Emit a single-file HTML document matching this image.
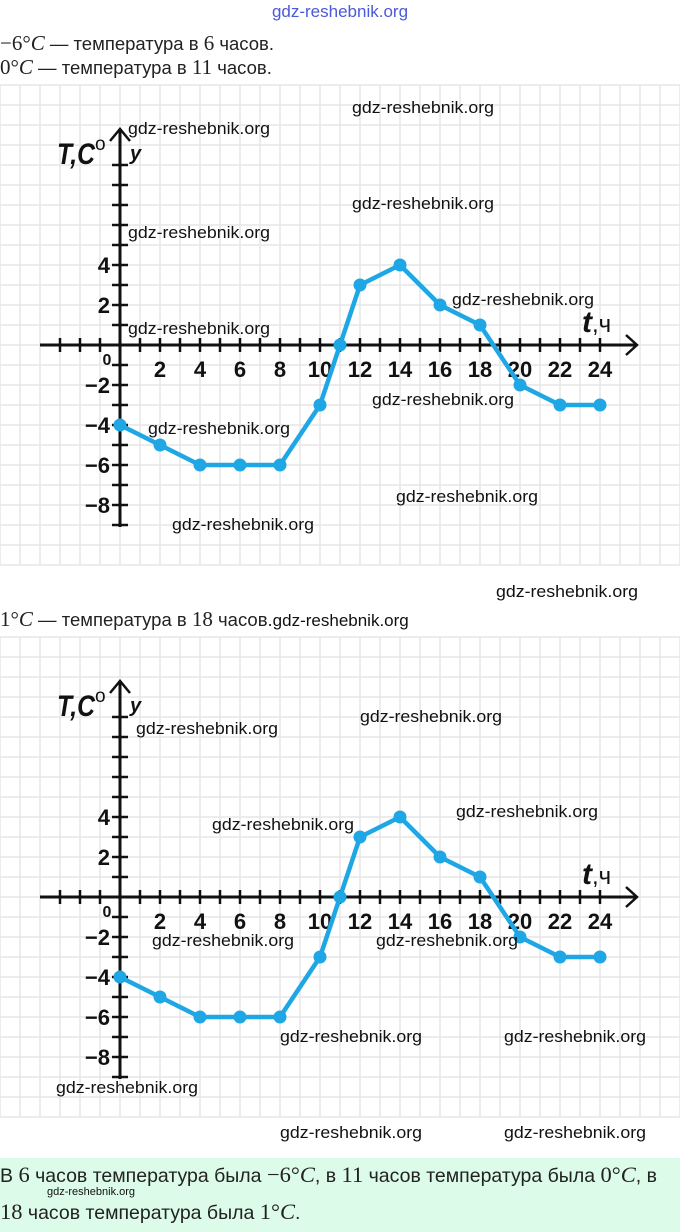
<!DOCTYPE html>
<html><head><meta charset="utf-8">
<style>
body{margin:0;width:680px;height:1232px;background:#fff;overflow:hidden;font-family:"Liberation Sans",sans-serif;}
svg{position:absolute;left:0;top:0}
</style></head><body>
<svg id="s" width="680" height="1232" xmlns="http://www.w3.org/2000/svg"></svg>
<script>
var s=document.getElementById('s'),h='';
h+='<rect x="0" y="1158" width="680" height="74" fill="#dcfbe8"/>';
function chart(oy,wm){
  var top=oy-260,bot=oy+220;
  for(var x=0;x<=680;x+=20)h+='<line x1="'+x+'" y1="'+top+'" x2="'+x+'" y2="'+bot+'" stroke="#e6e6e6" stroke-width="1.5"/>';
  for(var y=top;y<=bot;y+=20)h+='<line x1="0" y1="'+y+'" x2="680" y2="'+y+'" stroke="#e6e6e6" stroke-width="1.5"/>';
  h+='<line x1="40" y1="'+oy+'" x2="636" y2="'+oy+'" stroke="#111" stroke-width="3"/>';
  h+='<polyline points="626,'+(oy-10)+' 637,'+oy+' 626,'+(oy+10)+'" fill="none" stroke="#111" stroke-width="2.5"/>';
  h+='<line x1="120" y1="'+(oy-216)+'" x2="120" y2="'+(oy+182)+'" stroke="#111" stroke-width="3"/>';
  h+='<polyline points="110,'+(oy-204)+' 120,'+(oy-216)+' 130,'+(oy-204)+'" fill="none" stroke="#111" stroke-width="2.5"/>';
  for(var x=60;x<=600;x+=20)if(x!=120)h+='<line x1="'+x+'" y1="'+(oy-7)+'" x2="'+x+'" y2="'+(oy+7)+'" stroke="#111" stroke-width="2.5"/>';
  for(var y=oy-180;y<=oy+180;y+=20)if(y!=oy)h+='<line x1="112" y1="'+y+'" x2="128" y2="'+y+'" stroke="#111" stroke-width="2.5"/>';
  var f='font-family="Liberation Sans, sans-serif" font-weight="bold" fill="#111"';
  var xl=[2,4,6,8,10,12,14,16,18,20,22,24];
  xl.forEach(function(v){h+='<text x="'+(120+20*v)+'" y="'+(oy+32)+'" text-anchor="middle" font-size="22" '+f+'>'+v+'</text>';});
  h+='<text x="107" y="'+(oy+20)+'" text-anchor="middle" font-size="16" '+f+'>0</text>';
  [[4,'4'],[2,'2'],[-2,'−2'],[-4,'−4'],[-6,'−6'],[-8,'−8']].forEach(function(a){
    h+='<text x="110" y="'+(oy-20*a[0]+8)+'" text-anchor="end" font-size="22" '+f+'>'+a[1]+'</text>';});
  h+='<text x="57" y="'+(oy-181)+'" font-size="30" font-style="italic" textLength="38" lengthAdjust="spacingAndGlyphs" '+f+'>T,C</text>';
  h+='<text x="95" y="'+(oy-195)+'" font-size="19" fill="#111" font-family="Liberation Sans, sans-serif">o</text>';
  h+='<text x="130" y="'+(oy-185)+'" font-size="20" font-style="italic" '+f+'>y</text>';
  h+='<text x="582" y="'+(oy-13)+'" font-size="30" font-style="italic" '+f+'>t</text>';
  h+='<text x="592" y="'+(oy-13)+'" font-size="24" fill="#111" font-family="Liberation Sans, sans-serif">,ч</text>';
  var d=[[0,-4],[2,-5],[4,-6],[6,-6],[8,-6],[10,-3],[11,0],[12,3],[14,4],[16,2],[18,1],[20,-2],[22,-3],[24,-3]];
  var p=d.map(function(a){return (120+20*a[0])+','+(oy-20*a[1]);}).join(' ');
  h+='<polyline points="'+p+'" fill="none" stroke="#1ea7e4" stroke-width="4.5" stroke-linejoin="round"/>';
  d.forEach(function(a){h+='<circle cx="'+(120+20*a[0])+'" cy="'+(oy-20*a[1])+'" r="6.5" fill="#1ea7e4"/>';});
  wm.forEach(function(w){h+='<text x="'+w[0]+'" y="'+(w[1])+'" font-size="17" textLength="142" lengthAdjust="spacingAndGlyphs" fill="#111" font-family="Liberation Sans, sans-serif">gdz-reshebnik.org</text>';});
}
chart(345,[[352,113],[128,134],[352,209],[128,238],[452,305],[128,334],[372,405],[148,434],[396,502],[172,530],[496,597]]);
chart(897,[[360,722],[136,734],[456,817],[212,830],[152,946],[376,946],[280,1042],[504,1042],[56,1093],[280,1138],[504,1138]]);
var t='font-family="Liberation Sans, Noto Sans CJK JP, sans-serif" font-size="18.5" fill="#222"';
var m='font-family="Liberation Serif, serif" font-size="21" fill="#222"';
var t2='font-family="Liberation Sans, Noto Sans CJK JP, sans-serif" font-size="19.5" fill="#222"';
var m2='font-family="Liberation Serif, serif" font-size="22.5" fill="#222"';
h+='<text x="340" y="17" text-anchor="middle" font-size="17" fill="#4a5ad8" font-family="Liberation Sans, sans-serif">gdz-reshebnik.org</text>';
h+='<text x="0" y="50" '+t+'><tspan '+m+'>−6°<tspan font-style="italic">C</tspan></tspan> — температура в <tspan '+m+'>6</tspan> часов.</text>';
h+='<text x="0" y="74" '+t+'><tspan '+m+'>0°<tspan font-style="italic">C</tspan></tspan> — температура в <tspan '+m+'>11</tspan> часов.</text>';
h+='<text x="0" y="626" '+t+'><tspan '+m+'>1°<tspan font-style="italic">C</tspan></tspan> — температура в <tspan '+m+'>18</tspan> часов.<tspan fill="#111" font-size="17">gdz-reshebnik.org</tspan></text>';
h+='<text x="0" y="1182" '+t2+'>В <tspan '+m2+'>6</tspan> часов температура была <tspan '+m2+'>−6°<tspan font-style="italic">C</tspan></tspan>, в <tspan '+m2+'>11</tspan> часов температура была <tspan '+m2+'>0°<tspan font-style="italic">C</tspan></tspan>, в</text>';
h+='<text x="47" y="1195" font-size="11" fill="#111" font-family="Liberation Sans, sans-serif">gdz-reshebnik.org</text>';
h+='<text x="0" y="1219" '+t2+'><tspan '+m2+'>18</tspan> часов температура была <tspan '+m2+'>1°<tspan font-style="italic">C</tspan></tspan>.</text>';
s.innerHTML=h;
</script>
</body></html>
